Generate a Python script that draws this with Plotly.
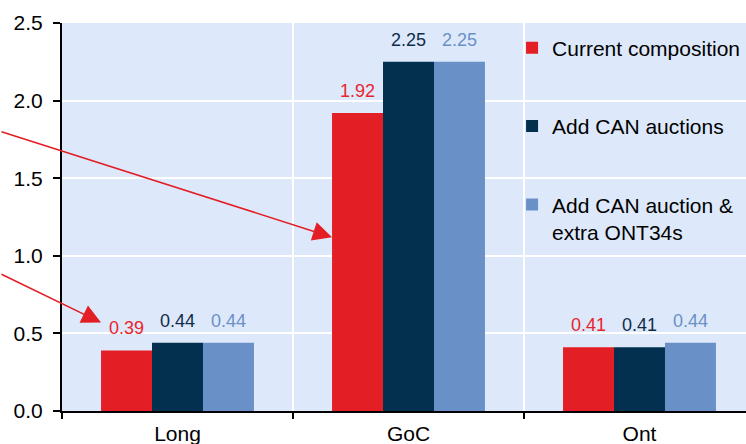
import plotly.graph_objects as go

# Categories and series values
categories = ["Long", "GoC", "Ont"]
series_names = [
    "Current composition",
    "Add CAN auctions",
    "Add CAN auction &<br>extra ONT34s",
]
current_composition = [0.39, 1.92, 0.41]
add_can_auctions = [0.44, 2.25, 0.41]
add_can_and_ont34 = [0.44, 2.25, 0.44]

series_values = [current_composition, add_can_auctions, add_can_and_ont34]
bar_colors = ["#e31e24", "#03304f", "#6a90c8"]
label_colors = ["#e8242b", "#0f2d4a", "#6a90c8"]

FONT = "Arial, Liberation Sans, sans-serif"
BARGAP = 0.338

fig = go.Figure()
for name, vals, col in zip(series_names, series_values, bar_colors):
    fig.add_trace(go.Bar(
        x=categories, y=vals, name=name,
        marker=dict(color=col, line=dict(width=0)),
        legendgroup=name,
    ))

# Value labels above each bar
bar_w = (1 - BARGAP) / len(series_values)
annotations = []
for i, (vals, col) in enumerate(zip(series_values, label_colors)):
    for j, v in enumerate(vals):
        annotations.append(dict(
            x=j + (i - 1) * bar_w, y=v, xref="x", yref="y",
            text=f"{v:.2f}", showarrow=False, yshift=22,
            yanchor="middle", xanchor="center",
            font=dict(family=FONT, size=18, color=col),
        ))

# Pointer arrows into the "current composition" bars
left_edge = -1.5 * bar_w
annotations.append(dict(
    x=1 + left_edge, y=1.12, xref="x", yref="y", text="",
    showarrow=True, arrowhead=2, arrowsize=2.4, arrowwidth=1.6,
    arrowcolor="#e31e24", ax=-360, ay=-106,
))
annotations.append(dict(
    x=0 + left_edge, y=0.57, xref="x", yref="y", text="",
    showarrow=True, arrowhead=2, arrowsize=2.4, arrowwidth=1.6,
    arrowcolor="#e31e24", ax=-130, ay=-49,
))

fig.update_layout(
    width=746, height=444,
    margin=dict(l=62, r=0, t=23, b=33, pad=0),
    paper_bgcolor="white",
    plot_bgcolor="#dde9fa",
    barmode="group", bargap=BARGAP, bargroupgap=0,
    font=dict(family=FONT, size=21, color="black"),
    showlegend=True,
    legend=dict(
        x=0.658, y=0.988, xanchor="left", yanchor="top",
        bgcolor="rgba(0,0,0,0)", borderwidth=0,
        font=dict(family=FONT, size=21, color="black"),
        traceorder="grouped", tracegroupgap=48, valign="top",
    ),
    annotations=annotations,
)

fig.update_xaxes(
    type="category", categoryorder="array", categoryarray=categories,
    range=[-0.5, 2.5 - 9 / 231],
    tickson="boundaries", ticks="outside", ticklen=6, tickwidth=2,
    tickcolor="black", showline=True, linecolor="black", linewidth=2,
    showgrid=True, gridcolor="white", gridwidth=2,
    tickfont=dict(family=FONT, size=21, color="black"),
    ticklabelstandoff=3,
)
fig.update_yaxes(
    range=[0, 2.5], dtick=0.5, tick0=0, tickformat=".1f",
    ticks="outside", ticklen=7, tickwidth=2, tickcolor="black",
    showline=True, linecolor="black", linewidth=2,
    showgrid=True, gridcolor="white", gridwidth=2, zeroline=False,
    tickfont=dict(family=FONT, size=21, color="black"),
    ticklabelstandoff=6,
)

fig.write_html("out.html")
